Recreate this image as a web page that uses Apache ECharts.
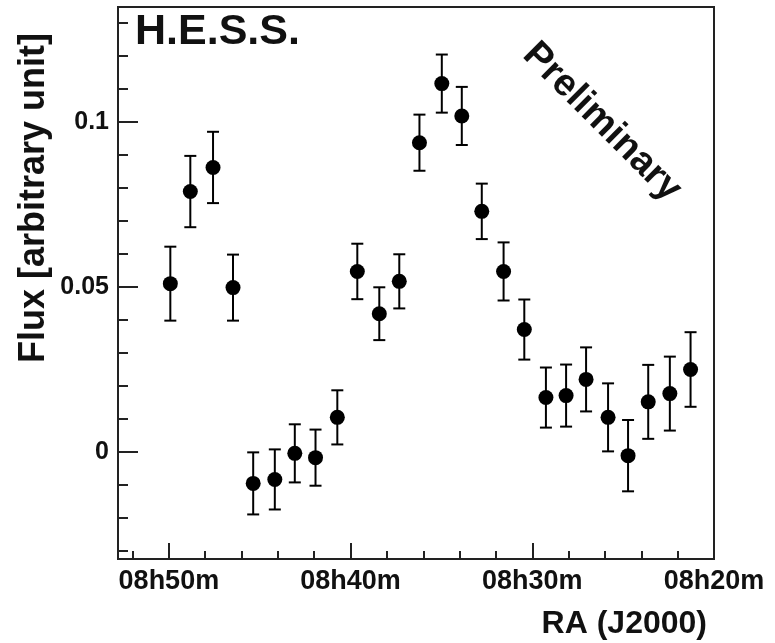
<!DOCTYPE html>
<html><head><meta charset="utf-8">
<script src="https://cdn.jsdelivr.net/npm/echarts@6/dist/echarts.min.js"></script>
<style>html,body{margin:0;padding:0;background:#fff}#c{width:775px;height:643px}</style>
</head><body><div id="c"></div>
<script>
// RA offsets in minutes after 08h
const raMinutes = [49.92, 48.82, 47.57, 46.47, 45.36, 44.17, 43.07, 41.93, 40.73, 39.63, 38.42, 37.32, 36.21, 34.98, 33.88, 32.78, 31.58, 30.44, 29.25, 28.14, 27.04, 25.83, 24.73, 23.62, 22.43, 21.29];
const flux = [0.0510, 0.0789, 0.0862, 0.0498, -0.0095, -0.0083, -0.0004, -0.0017, 0.0105, 0.0547, 0.0419, 0.0517, 0.0937, 0.1116, 0.1018, 0.0729, 0.0547, 0.0371, 0.0165, 0.0171, 0.0220, 0.0105, -0.0011, 0.0152, 0.0177, 0.0250];
const fluxErr = [0.0112, 0.0108, 0.0108, 0.0100, 0.0094, 0.0091, 0.0088, 0.0085, 0.0082, 0.0084, 0.0080, 0.0082, 0.0085, 0.0088, 0.0088, 0.0084, 0.0088, 0.0091, 0.0091, 0.0094, 0.0097, 0.0103, 0.0108, 0.0112, 0.0112, 0.0113];
const xTickMinutes = [50, 40, 30, 20];
const xTickLabels = ['08h50m', '08h40m', '08h30m', '08h20m'];
const xMinorMinutes = [22, 24, 26, 28, 32, 34, 36, 38, 42, 44, 46, 48, 52];
const yTickValues = [0, 0.05, 0.1];
const yTickLabels = ['0', '0.05', '0.1'];
const yMinorValues = [-0.03, -0.02, -0.01, 0.01, 0.02, 0.03, 0.04, 0.06, 0.07, 0.08, 0.09, 0.11, 0.12, 0.13];
const xRange = [20, 52.8];
const yRange = [-0.0324, 0.1348];

const FONT = '"Liberation Sans", Arial, Helvetica, sans-serif';
const AXC = '#222';

function lookup(vals, labels, v) {
  for (let i = 0; i < vals.length; i++) if (Math.abs(vals[i] - v) < 1e-9) return labels[i];
  return '';
}

const points = raMinutes.map((x, i) => [x, flux[i]]);
const errs = raMinutes.map((x, i) => [x, flux[i], fluxErr[i]]);

const chart = echarts.init(document.getElementById('c'), null, {renderer: 'canvas'});
chart.setOption({
  animation: false,
  backgroundColor: '#fff',
  grid: {left: 118, right: 61, top: 7, bottom: 84, show: true, borderColor: AXC, borderWidth: 2, backgroundColor: 'transparent'},
  xAxis: [{
    type: 'value', min: xRange[0], max: xRange[1], inverse: true, position: 'bottom',
    axisLine: {show: true, onZero: false, lineStyle: {color: AXC, width: 2}},
    axisTick: {show: true, inside: true, length: 16, customValues: xTickMinutes, lineStyle: {color: AXC, width: 2}},
    axisLabel: {show: true, customValues: xTickMinutes, formatter: v => lookup(xTickMinutes, xTickLabels, v),
      fontFamily: FONT, fontWeight: 'bold', fontSize: 27, color: '#111', margin: 9},
    splitLine: {show: false}
  }, {
    type: 'value', min: xRange[0], max: xRange[1], inverse: true, position: 'bottom', gridIndex: 0,
    axisLine: {show: false, onZero: false},
    axisTick: {show: true, inside: true, length: 8, customValues: xMinorMinutes, lineStyle: {color: AXC, width: 2}},
    axisLabel: {show: false},
    splitLine: {show: false}
  }],
  yAxis: [{
    type: 'value', min: yRange[0], max: yRange[1], position: 'left',
    axisLine: {show: true, onZero: false, lineStyle: {color: AXC, width: 2}},
    axisTick: {show: true, inside: true, length: 20, customValues: yTickValues, lineStyle: {color: AXC, width: 2}},
    axisLabel: {show: true, customValues: yTickValues, formatter: v => lookup(yTickValues, yTickLabels, v),
      fontFamily: FONT, fontWeight: 'bold', fontSize: 25, color: '#111', margin: 9},
    splitLine: {show: false}
  }, {
    type: 'value', min: yRange[0], max: yRange[1], position: 'left', gridIndex: 0,
    axisLine: {show: false, onZero: false},
    axisTick: {show: true, inside: true, length: 10, customValues: yMinorValues, lineStyle: {color: AXC, width: 2}},
    axisLabel: {show: false},
    splitLine: {show: false}
  }],
  series: [{
    type: 'custom', xAxisIndex: 0, yAxisIndex: 0, data: errs, encode: {x: 0, y: 1}, z: 2,
    renderItem: function (params, api) {
      const x = api.value(0), y = api.value(1), e = api.value(2);
      const t = api.coord([x, y + e]);
      const b = api.coord([x, y - e]);
      const w = 6;
      const st = {stroke: '#000', lineWidth: 2};
      return {type: 'group', children: [
        {type: 'line', shape: {x1: t[0], y1: t[1], x2: b[0], y2: b[1]}, style: st},
        {type: 'line', shape: {x1: t[0] - w, y1: t[1], x2: t[0] + w, y2: t[1]}, style: st},
        {type: 'line', shape: {x1: b[0] - w, y1: b[1], x2: b[0] + w, y2: b[1]}, style: st}
      ]};
    }
  }, {
    type: 'scatter', xAxisIndex: 0, yAxisIndex: 0, data: points, symbol: 'circle', symbolSize: 15, z: 3,
    itemStyle: {color: '#000', opacity: 1}
  }],
  graphic: [
    {type: 'text', x: 135, y: 32, z: 10, style: {text: 'H.E.S.S.', font: 'bold 43px ' + FONT, fill: '#111', textAlign: 'left', textVerticalAlign: 'middle'}},
    {type: 'text', x: 602, y: 122, rotation: -Math.PI / 4, z: 10, style: {text: 'Preliminary', font: 'bold 38px ' + FONT, fill: '#111', textAlign: 'center', textVerticalAlign: 'middle'}},
    {type: 'text', x: 34, y: 198, rotation: Math.PI / 2, z: 10, style: {text: 'Flux [arbitrary unit]', font: 'bold 36px ' + FONT, fill: '#111', textAlign: 'center', textVerticalAlign: 'middle'}},
    {type: 'text', x: 707, y: 624, z: 10, style: {text: 'RA (J2000)', font: 'bold 32px ' + FONT, fill: '#111', textAlign: 'right', textVerticalAlign: 'middle'}}
  ]
});
</script>
</body></html>
